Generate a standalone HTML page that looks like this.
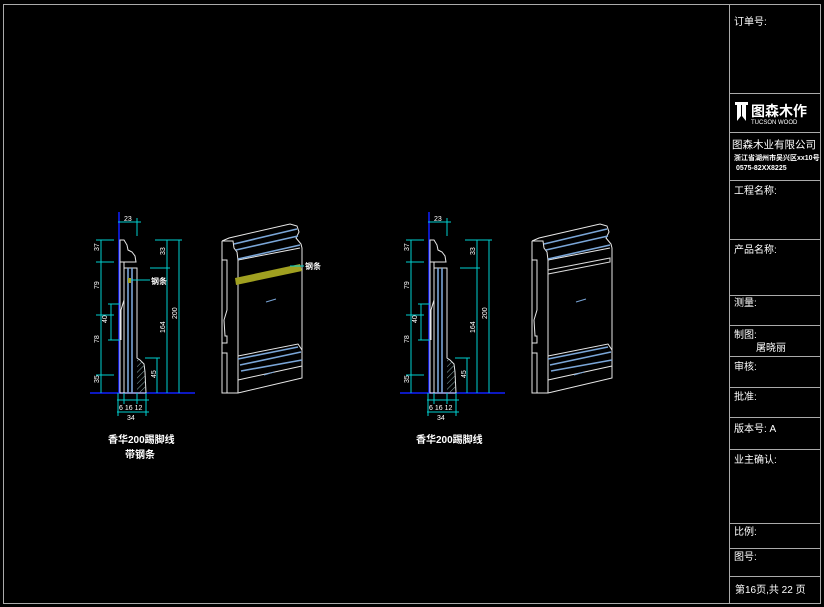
<!DOCTYPE html>
<html><head><meta charset="utf-8"><style>
html,body{margin:0;padding:0;background:#000;width:824px;height:607px;overflow:hidden}
svg{display:block}
text{font-family:"Liberation Sans","Noto Sans CJK SC",sans-serif;fill:#fff}
.c{stroke:#00d0d0;stroke-width:1;fill:none}
.w{stroke:#e8e8e8;stroke-width:1;fill:none}
.b{stroke:#7aa6d8;stroke-width:1.6;fill:none}
.g{stroke:#aaa;stroke-width:1;fill:none}
.dt{font-size:7px;fill:#fff}
</style></head><body>
<svg width="824" height="607" viewBox="0 0 824 607" xmlns="http://www.w3.org/2000/svg">
<defs>
<pattern id="h" width="4" height="4" patternUnits="userSpaceOnUse" patternTransform="rotate(45)"><line x1="0" y1="0" x2="0" y2="4" stroke="#8aa" stroke-width="1"/></pattern>
<g id="sec">
 <!-- blue axis -->
 <line x1="119" y1="212" x2="119" y2="393" stroke="#1020ff" stroke-width="1.5"/>
 <line x1="90" y1="393" x2="195" y2="393" stroke="#1020ff" stroke-width="1.5"/>
 <!-- profile -->
 <path d="M120,240 L124,240 L127,245 L128,250 L132,252 L135,256 L136,262 L120,262 Z" fill="url(#h)" class="w"/>
 <path d="M120,262 L124,262 L124,393 L120,393 Z" class="w"/>
 <path d="M124,268 L137,268 L137,358 L140,360 L144,364 L145,372 L146,393 L124,393" class="w"/>
 <path d="M137,358 L140,360 L144,364 L145,372 L146,393 L137,393Z" fill="url(#h)"/>
 <line x1="128" y1="268" x2="128" y2="393" class="b" stroke-width="1"/>
 <line x1="132" y1="268" x2="132" y2="393" class="b" stroke-width="1"/>
 <path d="M124,300 L121,310 L121,340" class="w"/>
 <!-- left dims -->
 <line x1="101" y1="240" x2="101" y2="393" class="c"/>
 <line x1="96" y1="240" x2="114" y2="240" class="c"/>
 <line x1="96" y1="262" x2="114" y2="262" class="c"/>
 <line x1="96" y1="315" x2="114" y2="315" class="c"/>
 <line x1="96" y1="375" x2="114" y2="375" class="c"/>
 <line x1="111" y1="304" x2="111" y2="340" class="c"/>
 <line x1="108" y1="304" x2="120" y2="304" class="c"/>
 <line x1="108" y1="340" x2="120" y2="340" class="c"/>
 <text class="dt" x="96" y="254" transform="rotate(-90 96 251)">37</text>
 <text class="dt" x="96" y="292" transform="rotate(-90 96 289)">79</text>
 <text class="dt" x="104" y="326" transform="rotate(-90 104 323)">40</text>
 <text class="dt" x="96" y="346" transform="rotate(-90 96 343)">78</text>
 <text class="dt" x="96" y="386" transform="rotate(-90 96 383)">35</text>
 <!-- top dim -->
 <line x1="118" y1="222" x2="141" y2="222" class="c"/>
 <line x1="137" y1="218" x2="137" y2="236" class="c"/>
 <text class="dt" x="124" y="221">23</text>
 <!-- right dims -->
 <line x1="155" y1="240" x2="182" y2="240" class="c"/>
 <line x1="150" y1="268" x2="170" y2="268" class="c"/>
 <line x1="167" y1="240" x2="167" y2="393" class="c"/>
 <line x1="179" y1="240" x2="179" y2="393" class="c"/>
 <line x1="145" y1="358" x2="160" y2="358" class="c"/>
 <line x1="157" y1="358" x2="157" y2="393" class="c"/>
 <text class="dt" x="162" y="258" transform="rotate(-90 162 255)">33</text>
 <text class="dt" x="162" y="336" transform="rotate(-90 162 333)">164</text>
 <text class="dt" x="174" y="322" transform="rotate(-90 174 319)">200</text>
 <text class="dt" x="153" y="381" transform="rotate(-90 153 378)">45</text>
 <!-- bottom dims -->
 <line x1="117" y1="400" x2="149" y2="400" class="c"/>
 <line x1="117" y1="412" x2="149" y2="412" class="c"/>
 <line x1="118" y1="393" x2="118" y2="416" class="c"/>
 <line x1="124" y1="393" x2="124" y2="404" class="c"/>
 <line x1="137" y1="393" x2="137" y2="404" class="c"/>
 <line x1="146" y1="393" x2="146" y2="416" class="c"/>
 <text class="dt" x="119" y="410">6 16 12</text>
 <text class="dt" x="127" y="420">34</text>
 <!-- perspective -->
 <path d="M222,241 L222,393 L238,393 L302,378 L302,350 L298,344 L238,356 M238,393 L238,260 M222,241 L229,238 L290,224 L297,226 L299,232 L296,238 L301,244 L302,248 L302,350 M222,241 L233,241 L234,248 L237,252 L238,260 L300,248" class="w"/>
 <path d="M222,260 L227,260 L227,310 L224,320 L225,336 L227,336 L227,343 L222,343 M222,353 L227,353 L227,393" class="w"/>
 <path d="M234,244 L297,229 M236,250 L298,236 M238,259 L300,245" class="b"/>
 <path d="M238,359 L298,347 M240,365 L301,352 M241,371 L302,360" class="b"/>
 <line x1="238" y1="380" x2="302" y2="366" class="w"/>
 <path d="M266,302 L276,299 M264,375 L274,372" stroke="#7aa6d8" stroke-width="1"/>
</g>
</defs>
<!-- borders -->
<rect x="3.5" y="4.5" width="817" height="599" class="g"/>
<line x1="729.5" y1="4" x2="729.5" y2="604" class="g"/>
<g class="g">
<line x1="729" y1="93.5" x2="821" y2="93.5"/>
<line x1="729" y1="132.5" x2="821" y2="132.5"/>
<line x1="729" y1="180.5" x2="821" y2="180.5"/>
<line x1="729" y1="239.5" x2="821" y2="239.5"/>
<line x1="729" y1="295.5" x2="821" y2="295.5"/>
<line x1="729" y1="325.5" x2="821" y2="325.5"/>
<line x1="729" y1="356.5" x2="821" y2="356.5"/>
<line x1="729" y1="387.5" x2="821" y2="387.5"/>
<line x1="729" y1="417.5" x2="821" y2="417.5"/>
<line x1="729" y1="449.5" x2="821" y2="449.5"/>
<line x1="729" y1="523.5" x2="821" y2="523.5"/>
<line x1="729" y1="548.5" x2="821" y2="548.5"/>
<line x1="729" y1="576.5" x2="821" y2="576.5"/>
</g>
<g font-size="10">
<text x="734" y="25">订单号:</text>
<text x="734" y="194">工程名称:</text>
<text x="734" y="253">产品名称:</text>
<text x="734" y="306">测量:</text>
<text x="734" y="338">制图:</text>
<text x="756" y="351">屠晓丽</text>
<text x="734" y="370">审核:</text>
<text x="734" y="400">批准:</text>
<text x="734" y="432">版本号: A</text>
<text x="734" y="463">业主确认:</text>
<text x="734" y="535">比例:</text>
<text x="734" y="560">图号:</text>
<text x="735" y="593">第16页,共 22 页</text>
<text x="732" y="148" font-size="10.5">图森木业有限公司</text>
<text x="734" y="160" font-size="7" font-weight="bold">浙江省湖州市吴兴区xx10号</text>
<text x="736" y="170" font-size="7" font-weight="bold">0575-82XX8225</text>
</g>
<!-- logo -->
<path d="M735,102 H748 V105 H746 V121 L742,116 V105 H741 V116 L737,121 V105 H735Z" fill="#fff"/>
<text x="751" y="116" font-size="14" font-weight="bold">图森木作</text>
<text x="751" y="124" font-size="6">TUCSON WOOD</text>
<!-- drawings -->
<use href="#sec"/>
<path d="M235,278 L300,264 L302,271 L236,285Z" fill="#a0a020"/>
<path d="M128,278 L131,278 L131,283 L128,283Z" fill="#a0a020"/>
<line x1="131" y1="280" x2="150" y2="280" class="c"/>
<line x1="290" y1="266" x2="304" y2="266" class="c"/>
<text x="151" y="284" font-size="8" font-weight="bold">钢条</text>
<text x="305" y="269" font-size="8" font-weight="bold">钢条</text>
<text x="108" y="443" font-size="10" font-weight="bold">香华200踢脚线</text>
<text x="125" y="458" font-size="10" font-weight="bold">带钢条</text>
<use href="#sec" transform="translate(310,0)"/>
<path d="M548,270 L610,258 L610,262 L548,274Z" fill="none" stroke="#ddd"/>
<text x="416" y="443" font-size="10" font-weight="bold">香华200踢脚线</text>
</svg>
</body></html>
